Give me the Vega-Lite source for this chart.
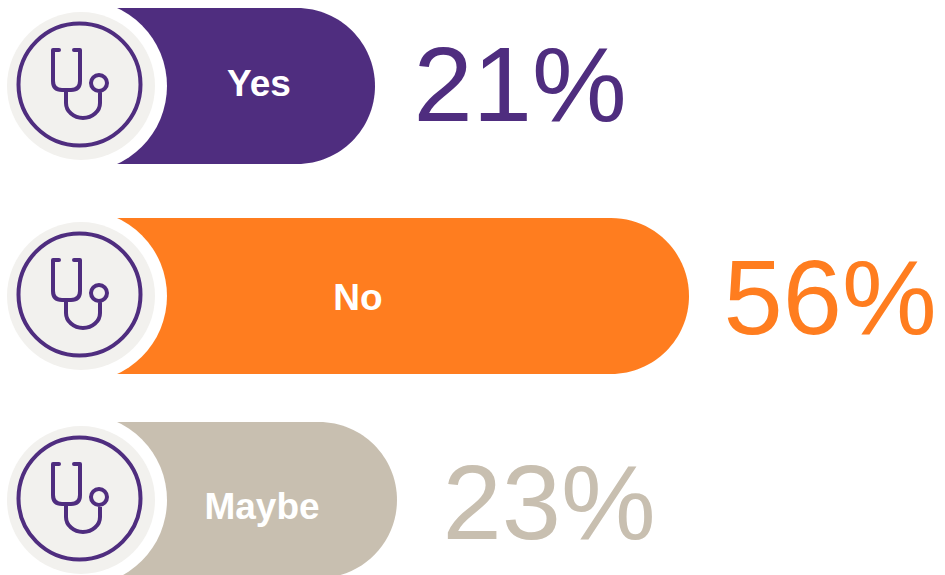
{
  "$schema": "https://vega.github.io/schema/vega-lite/v6.json",
  "width": 945,
  "height": 575,
  "padding": 0,
  "autosize": {"type": "none"},
  "background": "white",
  "config": {"view": {"stroke": null}, "font": "Liberation Sans"},
  "data": {"values": [
    {"answer": "Yes", "rank": 1, "share": 0.21},
    {"answer": "No", "rank": 2, "share": 0.56},
    {"answer": "Maybe", "rank": 3, "share": 0.23}
  ]},
  "encoding": {
    "y": {"field": "rank", "type": "quantitative", "axis": null,
      "scale": {"domain": [1, 2, 3], "range": [86, 296, 500], "zero": false, "nice": false, "padding": 0}}
  },
  "resolve": {"scale": {"x": "independent", "y": "independent"}},
  "layer": [
    {
      "mark": {"type": "bar", "orient": "horizontal", "size": 156, "cornerRadiusTopRight": 78, "cornerRadiusBottomRight": 78},
      "encoding": {
        "x": {"field": "share", "type": "quantitative", "axis": null, "stack": null,
          "scale": {"domain": [0, 0.21, 0.23, 0.56], "range": [81, 375, 397, 689]}},
        "color": {"field": "answer", "type": "nominal", "legend": null,
          "scale": {"domain": ["Yes", "No", "Maybe"], "range": ["#4f2d7f", "#ff7d1f", "#c8bfb0"]}}
      }
    },
    {
      "mark": {"type": "point", "shape": "circle", "filled": true, "opacity": 1, "size": 29584, "color": "white"},
      "encoding": {"x": {"datum": 0, "axis": null, "scale": {"domain": [0, 0.56], "range": [81, 689]}}}
    },
    {
      "mark": {"type": "point", "shape": "circle", "filled": true, "opacity": 1, "size": 21904, "color": "#f2f1ee"},
      "encoding": {"x": {"datum": 0, "axis": null, "scale": {"domain": [0, 0.56], "range": [81, 689]}}}
    },
    {
      "mark": {"type": "point", "shape": "circle", "filled": false, "opacity": 1, "size": 14884, "stroke": "#4f2d7f", "strokeWidth": 4, "xOffset": -1.5, "yOffset": -1.5},
      "encoding": {"x": {"datum": 0, "axis": null, "scale": {"domain": [0, 0.56], "range": [81, 689]}}}
    },
    {
      "mark": {"type": "point", "filled": false, "opacity": 1, "size": 40000, "stroke": "#4f2d7f", "strokeWidth": 4, "strokeCap": "round", "strokeJoin": "round",
        "shape": "M-0.22 -0.36 H-0.28 V-0.05 Q-0.28 0.04 -0.19 0.04 H-0.10 Q-0.01 0.04 -0.01 -0.05 V-0.36 H-0.07 M-0.15 0.04 V0.17 A0.17 0.15 0 0 0 0.19 0.17 V0.05 M0.26 -0.03 A0.08 0.08 0 1 1 0.10 -0.03 A0.08 0.08 0 1 1 0.26 -0.03 Z"},
      "encoding": {"x": {"datum": 0, "axis": null, "scale": {"domain": [0, 0.56], "range": [81, 689]}}}
    },
    {
      "mark": {"type": "text", "font": "Liberation Sans", "fontWeight": "bold", "fontSize": 37, "color": "white", "align": "center", "baseline": "middle"},
      "encoding": {
        "x": {"field": "share", "type": "quantitative", "axis": null,
          "scale": {"domain": [0.21, 0.23, 0.56], "range": [259, 262, 358]}},
        "y": {"field": "rank", "type": "quantitative", "axis": null,
          "scale": {"domain": [1, 2, 3], "range": [85, 299, 508], "zero": false, "nice": false}},
        "text": {"field": "answer"}
      }
    },
    {
      "mark": {"type": "text", "font": "Liberation Sans", "fontSize": 106.5, "align": "center", "baseline": "middle"},
      "encoding": {
        "x": {"field": "share", "type": "quantitative", "axis": null,
          "scale": {"domain": [0.21, 0.23, 0.56], "range": [520, 549, 830]}},
        "y": {"field": "rank", "type": "quantitative", "axis": null,
          "scale": {"domain": [1, 2, 3], "range": [88.5, 301.5, 506.5], "zero": false, "nice": false}},
        "text": {"field": "share", "format": ".0%"},
        "color": {"field": "answer", "type": "nominal", "legend": null,
          "scale": {"domain": ["Yes", "No", "Maybe"], "range": ["#4f2d7f", "#ff7d1f", "#c8bfb0"]}}
      }
    }
  ]
}
